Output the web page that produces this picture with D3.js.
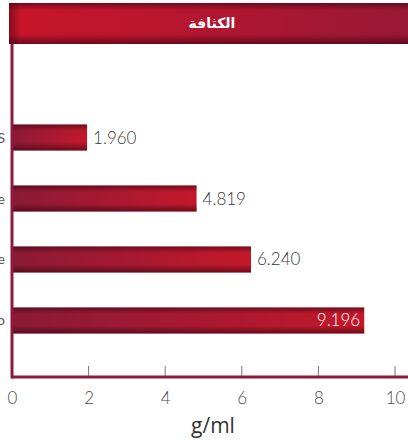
<!DOCTYPE html>
<html>
<head>
<meta charset="utf-8">
<script src="https://cdn.jsdelivr.net/npm/d3@7"></script>
<style>
  html, body { margin: 0; padding: 0; background: #fff; }
  svg { display: block; }
</style>
</head>
<body>
<script>
const categories = ["S", "Se", "Te", "Po"];
const values = [1.960, 4.819, 6.240, 9.196];
const valueLabels = ["1.960", "4.819", "6.240", "9.196"];
const tickValues = [0, 2, 4, 6, 8, 10];
const title = "الكثافة";
const unitLabel = "g/ml";

const W = 408, H = 440;
const svg = d3.select("body").append("svg").attr("width", W).attr("height", H);
const defs = svg.append("defs");

// title gradient
const tg = defs.append("linearGradient").attr("id", "titleGrad").attr("x1", 0).attr("x2", 1).attr("y1", 0).attr("y2", 0);
tg.append("stop").attr("offset", "0%").attr("stop-color", "#c8152a");
tg.append("stop").attr("offset", "45%").attr("stop-color", "#b5162f");
tg.append("stop").attr("offset", "100%").attr("stop-color", "#981834");
const tsh = defs.append("linearGradient").attr("id", "titleShade").attr("x1", 0).attr("x2", 0).attr("y1", 0).attr("y2", 1);
tsh.append("stop").attr("offset", "0%").attr("stop-color", "#3a0010").attr("stop-opacity", 0.55);
tsh.append("stop").attr("offset", "18%").attr("stop-color", "#3a0010").attr("stop-opacity", 0);
tsh.append("stop").attr("offset", "75%").attr("stop-color", "#3a0010").attr("stop-opacity", 0);
tsh.append("stop").attr("offset", "100%").attr("stop-color", "#3a0010").attr("stop-opacity", 0.6);
const tshx = defs.append("linearGradient").attr("id", "titleShadeX").attr("x1", 0).attr("x2", 1).attr("y1", 0).attr("y2", 0);
tshx.append("stop").attr("offset", "0%").attr("stop-color", "#3a0010").attr("stop-opacity", 0.45);
tshx.append("stop").attr("offset", "3%").attr("stop-color", "#3a0010").attr("stop-opacity", 0);

// bar gradients
const bg = defs.append("linearGradient").attr("id", "barGrad").attr("x1", 0).attr("x2", 1).attr("y1", 0).attr("y2", 0);
bg.append("stop").attr("offset", "0%").attr("stop-color", "#8a1a36");
bg.append("stop").attr("offset", "100%").attr("stop-color", "#c3182b");
const bs = defs.append("linearGradient").attr("id", "barShade").attr("x1", 0).attr("x2", 0).attr("y1", 0).attr("y2", 1);
bs.append("stop").attr("offset", "0%").attr("stop-color", "#2a0008").attr("stop-opacity", 0.5);
bs.append("stop").attr("offset", "25%").attr("stop-color", "#2a0008").attr("stop-opacity", 0);
bs.append("stop").attr("offset", "70%").attr("stop-color", "#2a0008").attr("stop-opacity", 0);
bs.append("stop").attr("offset", "100%").attr("stop-color", "#2a0008").attr("stop-opacity", 0.55);

const x0 = 12;
const x = d3.scaleLinear().domain([0, 10]).range([x0, 395]);
const y = d3.scaleBand().domain(categories).range([89.5, 368.5]).paddingInner(0.574).paddingOuter(0.574);

// title band
svg.append("rect").attr("x", 9).attr("y", 3).attr("width", W - 9).attr("height", 41).attr("fill", "url(#titleGrad)");
svg.append("rect").attr("x", 9).attr("y", 3).attr("width", W - 9).attr("height", 41).attr("fill", "url(#titleShade)");
svg.append("rect").attr("x", 9).attr("y", 3).attr("width", W - 9).attr("height", 41).attr("fill", "url(#titleShadeX)");
svg.append("text").attr("x", 212).attr("y", 28).attr("text-anchor", "middle")
  .attr("fill", "#fff").attr("font-family", "'DejaVu Sans', sans-serif").attr("font-size", 14).attr("font-weight", "bold")
  .attr("direction", "rtl").text(title);

// bars
const bars = svg.append("g");
bars.selectAll("rect.b").data(categories).join("rect").attr("class", "b")
  .attr("x", x(0)).attr("y", d => y(d)).attr("height", y.bandwidth())
  .attr("width", (d, i) => x(values[i]) - x(0)).attr("fill", "url(#barGrad)");
bars.selectAll("rect.s").data(categories).join("rect").attr("class", "s")
  .attr("x", x(0)).attr("y", d => y(d)).attr("height", y.bandwidth())
  .attr("width", (d, i) => x(values[i]) - x(0)).attr("fill", "url(#barShade)");

// value labels
svg.append("g").selectAll("text").data(categories).join("text")
  .attr("x", (d, i) => values[i] > 8.5 ? x(values[i]) - 4 : x(values[i]) + 6)
  .attr("y", d => y(d) + y.bandwidth() / 2 + 6)
  .attr("text-anchor", (d, i) => values[i] > 8.5 ? "end" : "start")
  .attr("fill", (d, i) => values[i] > 8.5 ? "#fff" : "#3a3a3a")
  .attr("font-family", "'Lato', 'Open Sans', sans-serif").attr("font-weight", 300).attr("font-size", 17)
  .text((d, i) => valueLabels[i]);

// category labels (mostly cut off at the left edge, as in the reference)
svg.append("g").selectAll("text").data(categories).join("text")
  .attr("x", 5).attr("y", d => y(d) + y.bandwidth() / 2 + 5)
  .attr("text-anchor", "end").attr("fill", "#555")
  .attr("font-family", "'Lato', sans-serif").attr("font-size", 14)
  .text(d => d);

// x axis
const axisY = 377;
const ax = svg.append("g").attr("transform", `translate(0,${axisY})`)
  .call(d3.axisBottom(x).tickValues(tickValues).tickSize(0).tickPadding(15).tickFormat(d3.format("d")));
ax.select(".domain").remove();
ax.selectAll("text").attr("fill", "#4a4a4a").attr("font-family", "'Lato', 'Open Sans', sans-serif")
  .attr("font-weight", 300).attr("font-size", 17);
// inner ticks
svg.append("g").selectAll("line").data(tickValues.filter(v => v > 0)).join("line")
  .attr("x1", d => x(d)).attr("x2", d => x(d)).attr("y1", axisY - 11).attr("y2", axisY)
  .attr("stroke", "#777").attr("stroke-width", 1);

// axis lines
svg.append("line").attr("x1", x0).attr("x2", W).attr("y1", axisY).attr("y2", axisY)
  .attr("stroke", "#8c1a3a").attr("stroke-width", 3);
svg.append("line").attr("x1", x0).attr("x2", x0).attr("y1", 44).attr("y2", axisY + 1.5)
  .attr("stroke", "#8c1a3a").attr("stroke-width", 3);

// axis title
svg.append("text").attr("x", 213).attr("y", 433).attr("text-anchor", "middle")
  .attr("fill", "#333").attr("font-family", "'Open Sans', 'Lato', sans-serif").attr("font-size", 21)
  .text(unitLabel);
</script>
</body>
</html>
